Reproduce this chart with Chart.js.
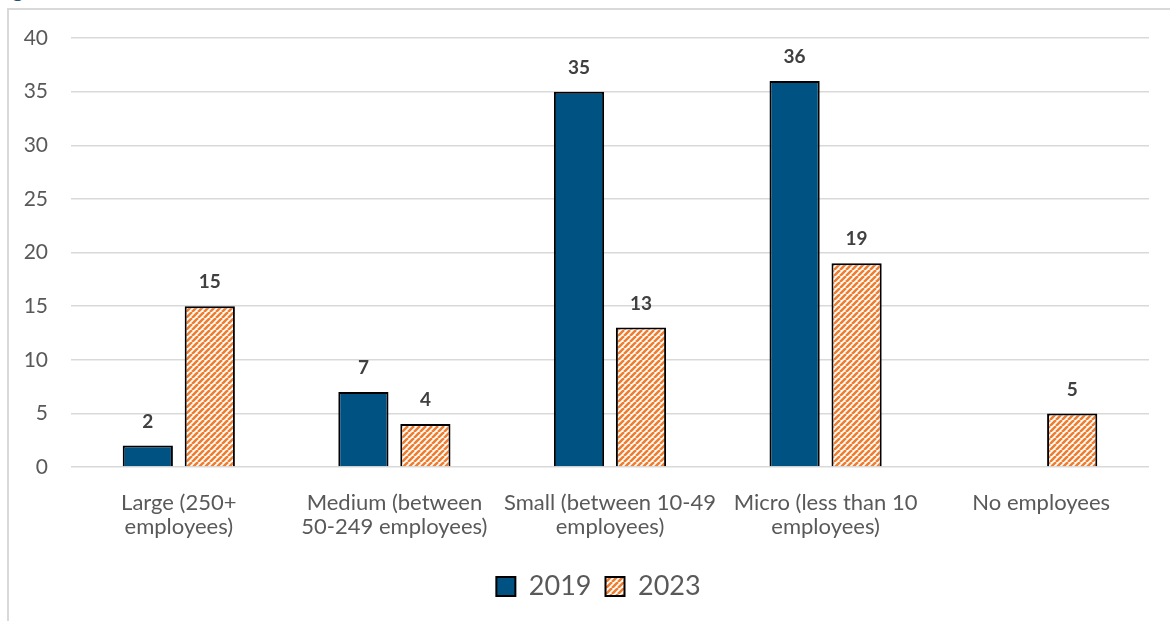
<!DOCTYPE html>
<html>
<head>
<meta charset="utf-8">
<script src="https://cdn.jsdelivr.net/npm/chart.js@4.4.1/dist/chart.umd.min.js"></script>
<style>
    body { margin: 0; background: #fff; overflow: hidden; }
    #wrap { position: relative; width: 1170px; height: 621px; }
    #frame {
        position: absolute; left: 7px; top: 8px; width: 1180px; height: 640px;
        border-top: 2px solid #d9d9d9; border-left: 2px solid #d9d9d9;
    }
    #heading {
        position: absolute; left: 12px; top: -25px; margin: 0;
        font: bold 22px Lato, sans-serif; color: #1f4e79;
    }
    #bySize { position: absolute; left: 0; top: 0; }
</style>
</head>
<body>
<div id="wrap">
    <div id="frame"></div>
    <p id="heading">g</p>
    <canvas id="bySize" width="1170" height="621"></canvas>
</div>
<script>
var categories = [
    ['Large (250+', 'employees)'],
    ['Medium (between', '50-249 employees)'],
    ['Small (between 10-49', 'employees)'],
    ['Micro (less than 10', 'employees)'],
    'No employees'
];
var values2019 = [2, 7, 35, 36, null];
var values2023 = [15, 4, 13, 19, 5];
var yTicks = [0, 5, 10, 15, 20, 25, 30, 35, 40];

var textGrey = '#595959';

// orange upward-diagonal hatch for the 2023 series
function hatch() {
    var c = document.createElement('canvas');
    c.width = 6; c.height = 6;
    var g = c.getContext('2d');
    g.fillStyle = '#ffffff';
    g.fillRect(0, 0, 6, 6);
    g.strokeStyle = '#ef7d2f';
    g.lineWidth = 2.6;
    for (var k = -6; k <= 12; k += 6) {
        g.beginPath();
        g.moveTo(k - 6, 6);
        g.lineTo(k, 0);
        g.stroke();
    }
    return g.createPattern(c, 'repeat');
}

var valueLabels = {
    id: 'valueLabels',
    afterDatasetsDraw: function(chart) {
        var ctx = chart.ctx;
        ctx.save();
        ctx.font = 'bold 19px Lato, sans-serif';
        ctx.fillStyle = '#404040';
        ctx.textAlign = 'center';
        ctx.textBaseline = 'middle';
        chart.data.datasets.forEach(function(ds, i) {
            chart.getDatasetMeta(i).data.forEach(function(bar, j) {
                if (ds.data[j] == null) return;
                ctx.fillText(ds.data[j], bar.x, bar.y - 24);
            });
        });
        ctx.restore();
    }
};

// legend sits a little right of the plot's centre
var legendShift = {
    id: 'legendShift',
    afterLayout: function(chart) {
        chart.legend.left += 24;
        chart.legend.right += 24;
    }
};

new Chart(document.getElementById('bySize'), {
    type: 'bar',
    data: {
        labels: categories,
        datasets: [
            {
                label: '2019',
                data: values2019,
                backgroundColor: '#005282',
                borderColor: '#000000',
                borderWidth: 2,
                categoryPercentage: 0.575,
                barPercentage: 0.81
            },
            {
                label: '2023',
                data: values2023,
                backgroundColor: hatch(),
                borderColor: '#000000',
                borderWidth: 2,
                categoryPercentage: 0.575,
                barPercentage: 0.81
            }
        ]
    },
    options: {
        responsive: false,
        animation: false,
        layout: { padding: { top: 38, right: 21, bottom: 11, left: 0 } },
        plugins: {
            legend: {
                position: 'bottom',
                labels: {
                    color: textGrey,
                    font: { family: 'Lato, sans-serif', size: 27 },
                    boxWidth: 19,
                    boxHeight: 19,
                    padding: 14
                }
            },
            tooltip: { enabled: false }
        },
        scales: {
            x: {
                grid: { display: false },
                border: { display: false },
                ticks: {
                    color: textGrey,
                    font: { family: 'Lato, sans-serif', size: 22, lineHeight: 1.09 },
                    maxRotation: 0,
                    autoSkip: false,
                    padding: 16
                },
                afterFit: function(scale) { scale.height = 92; }
            },
            y: {
                min: 0,
                max: 40,
                afterBuildTicks: function(scale) {
                    scale.ticks = yTicks.map(function(v) { return { value: v }; });
                },
                grid: { color: '#d9d9d9', lineWidth: 1.5, drawTicks: false },
                border: { display: false },
                ticks: {
                    color: textGrey,
                    font: { family: 'Lato, sans-serif', size: 21 },
                    padding: 23
                },
                afterFit: function(scale) { scale.width = 71; }
            }
        }
    },
    plugins: [valueLabels, legendShift]
});
</script>
</body>
</html>
